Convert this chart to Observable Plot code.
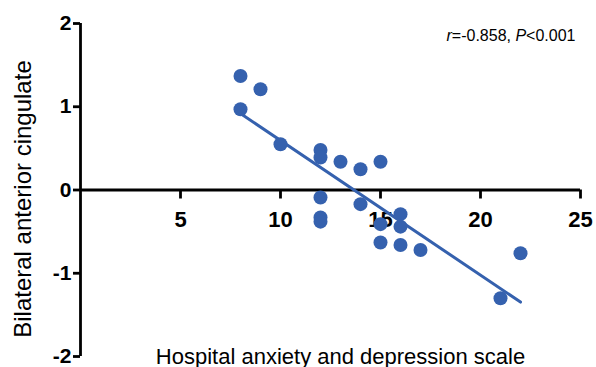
<!DOCTYPE html>
<html>
<head>
<meta charset="utf-8">
<script src="https://cdn.jsdelivr.net/npm/d3@7"></script>
<script src="https://cdn.jsdelivr.net/npm/@observablehq/plot@0.6"></script>
<style>
  html, body { margin: 0; padding: 0; background: #fff; }
  #chart svg { display: block; }
</style>
</head>
<body>
<div id="chart"></div>
<script>
// Data
const hadsScore = [8, 9, 8, 10, 12, 12, 13, 14, 15, 12, 12, 12, 14, 15, 16, 16, 15, 16, 17, 21, 22];
const cingulate = [1.37, 1.21, 0.97, 0.55, 0.48, 0.39, 0.34, 0.25, 0.34, -0.09, -0.33, -0.38, -0.17, -0.41, -0.29, -0.44, -0.63, -0.66, -0.72, -1.30, -0.76];
const xTicks = [5, 10, 15, 20, 25];
const yTicks = [-2, -1, 0, 1, 2];
const xLabel = "Hospital anxiety and depression scale";
const yLabel = "Bilateral anterior cingulate";
const annotation = "r=-0.858, P<0.001";

const points = hadsScore.map((x, i) => ({x, y: cingulate[i]}));
const blue = "#3561ae";
const font = "'Liberation Sans', Arial, Helvetica, sans-serif";

const chart = Plot.plot({
  width: 596,
  height: 367,
  marginLeft: 80,
  marginRight: 16,
  marginTop: 23,
  marginBottom: 11,
  style: {fontFamily: font, color: "#000", background: "#fff"},
  x: {domain: [0, 25], axis: null},
  y: {domain: [-2, 2], axis: null},
  marks: [
    Plot.axisY({ticks: yTicks, tickSize: 7, tickPadding: 2, fontSize: 21, fontWeight: "bold",
      strokeWidth: 2.8, tickFormat: d => String(d), label: null}),
    Plot.ruleX([0], {stroke: "#000", strokeWidth: 2.8}),
    Plot.ruleY([0], {stroke: "#000", strokeWidth: 2.8}),
    Plot.ruleX(xTicks, {x: d => d, y: 0, insetBottom: -9, stroke: "#000", strokeWidth: 2.8}),
    Plot.text(xTicks, {x: d => d, y: 0, dy: 30, text: d => String(d), fontSize: 22, fontWeight: "bold"}),
    Plot.linearRegressionY(points, {x: "x", y: "y", ci: 0, stroke: blue, strokeWidth: 3}),
    Plot.dot(points, {x: "x", y: "y", r: 7, fill: blue, stroke: "none"}),
    Plot.text([yLabel], {frameAnchor: "left", rotate: -90, textAnchor: "middle", lineAnchor: "middle",
      dx: -57, dy: 9, fontSize: 24, text: d => d}),
    Plot.text([xLabel], {frameAnchor: "bottom", dx: 10, dy: 7, lineAnchor: "bottom", fontSize: 22, text: d => d}),
    Plot.text([annotation], {frameAnchor: "top-right", dx: -5, dy: 17, textAnchor: "end", lineAnchor: "bottom", fontSize: 16, text: d => d})
  ]
});

// italicise r and P in the annotation
d3.select(chart).selectAll("text").each(function() {
  if (this.textContent === annotation) {
    const t = d3.select(this);
    t.text(null);
    t.append("tspan").attr("font-style", "italic").text("r");
    t.append("tspan").text("=-0.858, ");
    t.append("tspan").attr("font-style", "italic").text("P");
    t.append("tspan").text("<0.001");
  }
});

document.getElementById("chart").appendChild(chart);
</script>
</body>
</html>
